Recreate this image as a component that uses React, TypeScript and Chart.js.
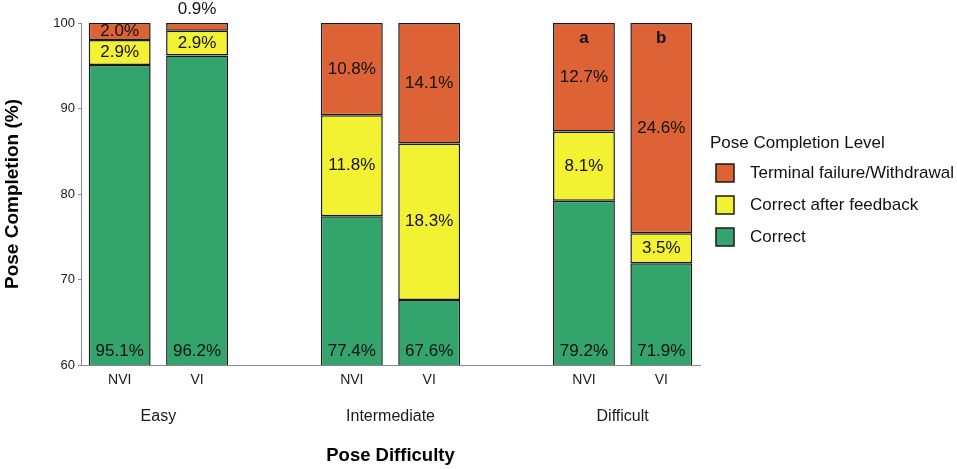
import React, { useEffect, useRef } from "react";
import { Chart, registerables } from "chart.js";

Chart.register(...registerables);

const groups = ["Easy", "Intermediate", "Difficult"];
const conditions = ["NVI", "VI"];
const seriesNames = ["Correct", "Correct after feedback", "Terminal failure/Withdrawal"];
const correct = [95.1, 96.2, 77.4, 67.6, 79.2, 71.9];
const afterFeedback = [2.9, 2.9, 11.8, 18.3, 8.1, 3.5];
const terminal = [2.0, 0.9, 10.8, 14.1, 12.7, 24.6];
const letters = ["", "", "", "", "a", "b"];
const yTicks = [60, 70, 80, 90, 100];
const colors = ["#33A56C", "#F2F232", "#DD6236"];
const legendTitle = "Pose Completion Level";
const xTitle = "Pose Difficulty";
const yTitle = "Pose Completion (%)";

const FONT = '"Liberation Sans", Arial, Helvetica, sans-serif';

// build category slots: bars of each group, with an empty spacer slot between groups
const labels: string[] = [];
const slotBar: (number | null)[] = [];
const groupCenters: number[] = [];
groups.forEach((g, gi) => {
  const start = labels.length;
  conditions.forEach((c, ci) => {
    labels.push(c);
    slotBar.push(gi * conditions.length + ci);
  });
  groupCenters.push(start + (conditions.length - 1) / 2);
  if (gi < groups.length - 1) {
    labels.push("");
    slotBar.push(null);
  }
});
const toSlots = (arr: number[]) => slotBar.map((b) => (b === null ? null : arr[b]));

const labelPlugin = {
  id: "segLabels",
  afterDatasetsDraw(chart: any) {
    const ctx = chart.ctx;
    const area = chart.chartArea;
    ctx.save();
    ctx.font = `17px ${FONT}`;
    ctx.fillStyle = "#111";
    ctx.textAlign = "center";
    ctx.textBaseline = "middle";
    chart.data.datasets.forEach((ds: any, d: number) => {
      const meta = chart.getDatasetMeta(d);
      meta.data.forEach((el: any, i: number) => {
        const v = ds.data[i];
        if (v == null) return;
        const { x, y, base } = el.getProps(["x", "y", "base"], true);
        const txt = v.toFixed(1) + "%";
        let ty: number;
        if (d === 0) ty = area.bottom - 14;
        else if (Math.abs(base - y) < 12) ty = y - 14;
        else ty = (y + base) / 2;
        ctx.fillText(txt, x, ty);
      });
    });
    const topMeta = chart.getDatasetMeta(chart.data.datasets.length - 1);
    ctx.font = `bold 17px ${FONT}`;
    topMeta.data.forEach((el: any, i: number) => {
      const b = slotBar[i];
      if (b === null) return;
      const t = letters[b];
      if (!t) return;
      ctx.fillText(t, el.x, el.y + 15);
    });
    ctx.restore();
  },
};

const legendPlugin = {
  id: "customLegend",
  afterDraw(chart: any) {
    const ctx = chart.ctx;
    const area = chart.chartArea;
    const x0 = area.right + 10;
    const cy = (area.top + area.bottom) / 2;
    ctx.save();
    ctx.font = `17px ${FONT}`;
    ctx.textAlign = "left";
    ctx.textBaseline = "middle";
    ctx.fillStyle = "#111";
    ctx.fillText(legendTitle, x0, cy - 51);
    const items = chart.data.datasets.slice().reverse();
    items.forEach((ds: any, k: number) => {
      const yc = cy - 21 + k * 32;
      ctx.fillStyle = ds.backgroundColor;
      ctx.fillRect(x0 + 6, yc - 9, 18, 18);
      ctx.strokeStyle = "#1a1a1a";
      ctx.lineWidth = 1.5;
      ctx.strokeRect(x0 + 6, yc - 9, 18, 18);
      ctx.fillStyle = "#111";
      ctx.fillText(ds.label, x0 + 40, yc);
    });
    ctx.restore();
  },
};

export default function App() {
  const ref = useRef<HTMLCanvasElement>(null);
  useEffect(() => {
    Chart.defaults.font.family = FONT;
    const series = [correct, afterFeedback, terminal];
    const chart = new Chart(ref.current as HTMLCanvasElement, {
      type: "bar",
      data: {
        labels,
        datasets: series.map((arr, k) => ({
          label: seriesNames[k],
          data: toSlots(arr),
          backgroundColor: colors[k],
          borderColor: "#1a1a1a",
          borderWidth: 1.5,
          borderSkipped: false,
          barPercentage: 0.8,
          categoryPercentage: 1,
          clip: { left: 5, right: 5, top: 3, bottom: 0 },
        })) as any,
      },
      options: {
        animation: false,
        responsive: true,
        maintainAspectRatio: false,
        layout: { padding: { top: 23, right: 257, bottom: 0, left: 0 } },
        plugins: {
          legend: { display: false },
          tooltip: { enabled: false },
        },
        scales: {
          x: {
            type: "category",
            stacked: true,
            offset: true,
            weight: 0,
            grid: { display: false, drawTicks: false },
            border: { display: true, color: "#888", width: 1 },
            ticks: {
              font: { size: 14 },
              color: "#1a1a1a",
              padding: 7,
              autoSkip: false,
              maxRotation: 0,
            },
            afterFit(s: any) {
              s.height = 30;
            },
          },
          x2: {
            type: "linear",
            position: "bottom",
            min: -0.5,
            max: labels.length - 0.5,
            offset: false,
            weight: 1,
            grid: { display: false, drawTicks: false, offset: false },
            border: { display: false },
            ticks: {
              font: { size: 16 },
              color: "#1a1a1a",
              padding: 12,
              callback: (v: any) => {
                const idx = groupCenters.indexOf(Number(v));
                return idx >= 0 ? groups[idx] : "";
              },
            },
            afterBuildTicks(s: any) {
              s.ticks = groupCenters.map((v) => ({ value: v }));
            },
            title: {
              display: true,
              text: xTitle,
              color: "#000",
              font: { size: 18.5, weight: "bold" },
              padding: { top: 0, bottom: 2 },
            },
            afterFit(s: any) {
              s.height = 74;
            },
          },
          y: {
            stacked: true,
            min: 60,
            max: 100,
            grid: {
              display: true,
              drawOnChartArea: false,
              drawTicks: true,
              tickLength: 3,
              color: "#888",
            },
            border: { display: true, color: "#888", width: 1 },
            ticks: {
              font: { size: 13 },
              color: "#1a1a1a",
              padding: 3,
            },
            afterBuildTicks(s: any) {
              s.ticks = yTicks.map((v) => ({ value: v }));
            },
            title: {
              display: true,
              text: yTitle,
              color: "#000",
              font: { size: 19, weight: "bold" },
              padding: { top: 1, bottom: 0 },
            },
            afterFit(s: any) {
              s.width = 81;
            },
          },
        } as any,
      },
      plugins: [labelPlugin, legendPlugin],
    });
    return () => chart.destroy();
  }, []);
  return (
    <div
      style={{
        position: "absolute",
        left: 0,
        top: 0,
        width: 957,
        height: 469,
        background: "#fff",
      }}
    >
      <canvas ref={ref} />
    </div>
  );
}
